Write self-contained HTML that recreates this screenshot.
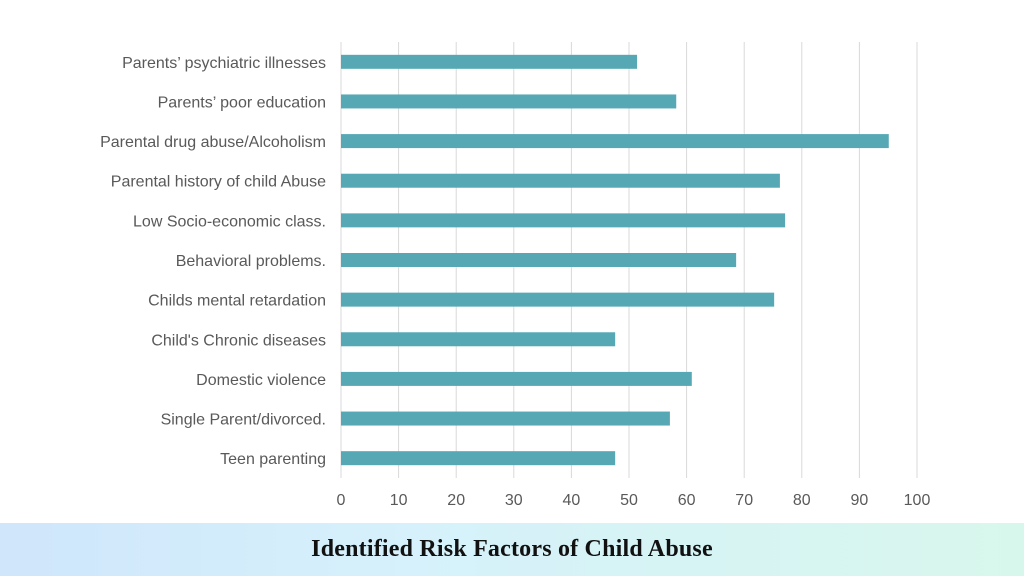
<!DOCTYPE html>
<html><head><meta charset="utf-8"><style>
html,body{margin:0;padding:0;width:1024px;height:576px;overflow:hidden;background:#fff;}
#banner{position:absolute;left:0;top:523px;width:1024px;height:53px;background:linear-gradient(90deg,#cfe6fb 0%,#d6f1fb 40%,#d8f7ec 100%);}
#title{position:absolute;left:0;top:0;width:1024px;line-height:53px;text-align:center;font-family:"Liberation Serif",serif;font-weight:900;font-size:24px;color:#111;letter-spacing:0.2px;}
</style></head><body>
<svg id="chart" width="1024" height="523" style="position:absolute;left:0;top:0" font-family="Liberation Sans, sans-serif"></svg>
<div id="banner"><div id="title">Identified Risk Factors of Child Abuse</div></div>
<script>
const categories=["Parents’ psychiatric illnesses","Parents’ poor education","Parental drug abuse/Alcoholism","Parental history of child Abuse","Low Socio-economic class.","Behavioral problems.","Childs mental retardation","Child's Chronic diseases","Domestic violence","Single Parent/divorced.","Teen parenting"];
const values=[51.4,58.2,95.1,76.2,77.1,68.6,75.2,47.6,60.9,57.1,47.6];
const ticks=[0,10,20,30,40,50,60,70,80,90,100];
const svgEl=document.getElementById('chart');
const NS='http://www.w3.org/2000/svg';
const x0=341,x1=917,yTop=42,yBottom=478;
const xs=v=>x0+(v-0)/(100-0)*(x1-x0);
const step=(yBottom-yTop)/categories.length;
const yc=i=>yTop+step*(i+0.5);
function mk(t,a){const e=document.createElementNS(NS,t);for(const k in a)e.setAttribute(k,a[k]);svgEl.appendChild(e);return e;}
ticks.forEach(t=>{
  const g=mk('line',{x1:xs(t),x2:xs(t),y1:yTop,y2:yBottom,stroke:'#d9d9d9','stroke-width':1});
  
  
  const l=mk('text',{x:xs(t),y:505,'text-anchor':'middle','font-size':16,fill:'#595959'});
  l.textContent=t;
  
  
});
categories.forEach((c,i)=>{
  const b=mk('rect',{x:xs(0),y:yc(i)-7,width:xs(values[i])-xs(0),height:14,fill:'#56a8b5'});
  
  
  const l=mk('text',{x:326,y:yc(i)+6,'text-anchor':'end','font-size':16,fill:'#595959'});
  l.textContent=c;
  
  
});
</script>
</body></html>
